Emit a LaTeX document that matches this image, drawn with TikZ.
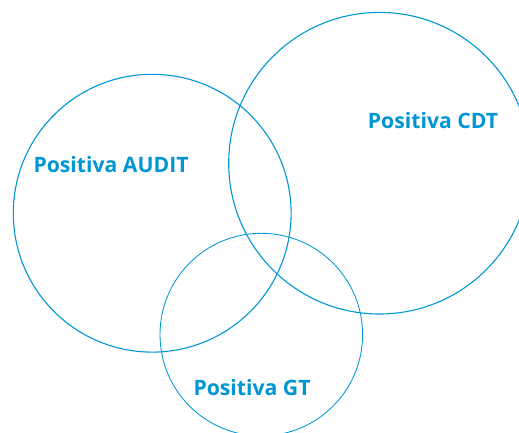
\documentclass[tikz,border=0pt]{standalone}
\usepackage{fontspec}
\setmainfont{Open Sans}
\definecolor{vblue}{RGB}{0,150,214}
\begin{document}
\begin{tikzpicture}[x=1pt,y=-1pt,
  ring/.style={draw=vblue,line width=1.1pt},
  thinring/.style={draw=vblue,line width=0.85pt},
  lbl/.style={text=vblue,font=\bfseries\fontsize{21.2}{25}\selectfont,anchor=base west,inner sep=0pt}]
\useasboundingbox (0,0) rectangle (519,432);
\clip (0,0) rectangle (519,432);
\draw[ring] (152.2,213.2) circle[radius=138.9];
\draw[ring] (379.5,163.2) circle[radius=150.8];
\draw[thinring] (261.3,334.6) circle[radius=101.3];
\node[lbl] (audit) at (33.3,172.3) {Positiva AUDIT};
\node[lbl] (cdt) at (367.7,128.3) {Positiva CDT};
\node[lbl] (gt) at (193.3,395.7) {Positiva GT};
\end{tikzpicture}
\end{document}
